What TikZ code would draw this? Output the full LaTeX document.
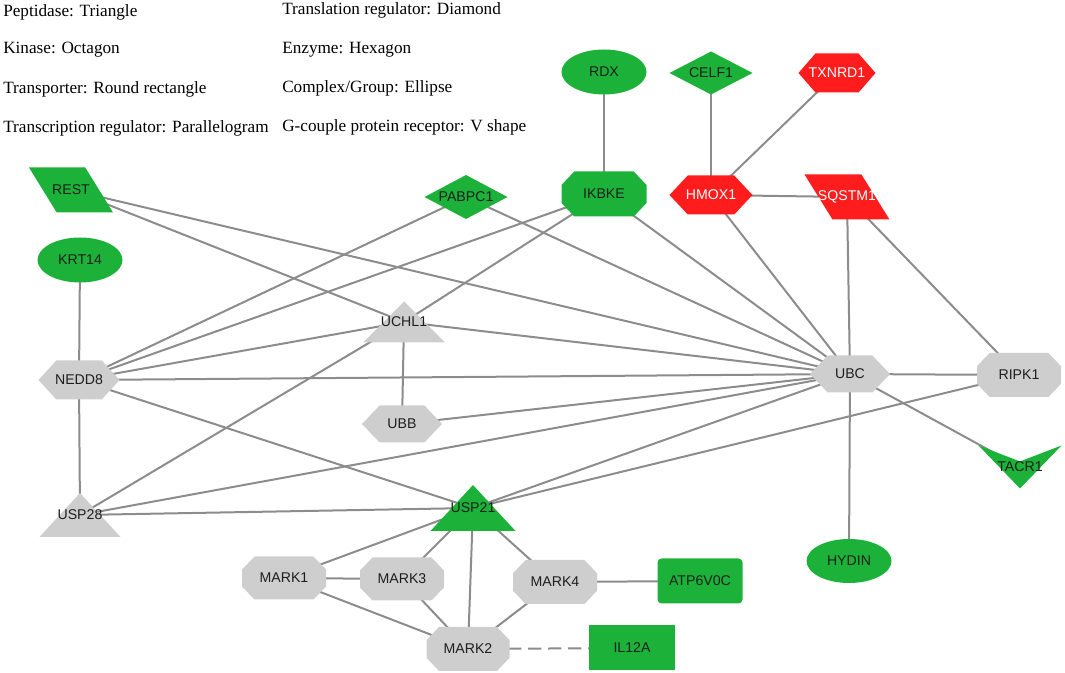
\documentclass[tikz,border=0pt]{standalone}
\usepackage{fontspec}
\setmainfont{Liberation Serif}
\setsansfont{Liberation Sans}
\pgfdeclarelayer{bg}
\pgfdeclarelayer{shp}
\pgfsetlayers{bg,shp,main}
\definecolor{ngreen}{RGB}{28,178,58}
\definecolor{nred}{RGB}{255,28,28}
\definecolor{ngray}{RGB}{206,206,206}
\definecolor{egray}{RGB}{140,140,140}
\definecolor{tdark}{RGB}{30,30,30}
\newcommand\shhexa[4]{\begin{pgfonlayer}{shp}\fill[#4,shift={(#1.center)}] (-#2/2,0) -- (-0.28*#2,-#3/2) -- (0.28*#2,-#3/2) -- (#2/2,0) -- (0.28*#2,#3/2) -- (-0.28*#2,#3/2) -- cycle;\end{pgfonlayer}}
\newcommand\shocta[4]{\begin{pgfonlayer}{shp}\fill[#4,shift={(#1.center)}] (-0.5*#2,-0.2*#3) -- (-0.35*#2,-0.5*#3) -- (0.35*#2,-0.5*#3) -- (0.5*#2,-0.2*#3) -- (0.5*#2,0.2*#3) -- (0.35*#2,0.5*#3) -- (-0.35*#2,0.5*#3) -- (-0.5*#2,0.2*#3) -- cycle;\end{pgfonlayer}}
\newcommand\shtri[4]{\begin{pgfonlayer}{shp}\fill[#4,shift={(#1.center)}] (0,-#3/2) -- (#2/2,#3/2) -- (-#2/2,#3/2) -- cycle;\end{pgfonlayer}}
\newcommand\shpara[4]{\begin{pgfonlayer}{shp}\fill[#4,shift={(#1.center)}] (-#2/2,-#3/2) -- (0.17*#2,-#3/2) -- (#2/2,#3/2) -- (-0.17*#2,#3/2) -- cycle;\end{pgfonlayer}}
\newcommand\shdiam[4]{\begin{pgfonlayer}{shp}\fill[#4,shift={(#1.center)}] (-#2/2,0) -- (0,-#3/2) -- (#2/2,0) -- (0,#3/2) -- cycle;\end{pgfonlayer}}
\newcommand\shvee[4]{\begin{pgfonlayer}{shp}\fill[#4,shift={(#1.center)}] (-#2/2,-#3/2) -- (0,-0.13*#3) -- (#2/2,-#3/2) -- (0,#3/2) -- cycle;\end{pgfonlayer}}
\newcommand\shell[4]{\begin{pgfonlayer}{shp}\fill[#4,shift={(#1.center)}] (0,0) ellipse [x radius=#2/2, y radius=#3/2];\end{pgfonlayer}}
\newcommand\shrrect[4]{\begin{pgfonlayer}{shp}\fill[#4,rounded corners=3pt,shift={(#1.center)}] (-#2/2,-#3/2) rectangle (#2/2,#3/2);\end{pgfonlayer}}
\newcommand\shrect[4]{\begin{pgfonlayer}{shp}\fill[#4,shift={(#1.center)}] (-#2/2,-#3/2) rectangle (#2/2,#3/2);\end{pgfonlayer}}
\begin{document}
\begin{tikzpicture}[x=0.75pt,y=-0.75pt,
  lbl/.style={font=\sffamily\fontsize{10.6}{12}\selectfont, inner sep=1pt, text=tdark},
  wlbl/.style={lbl, text=white},
  leg/.style={font=\rmfamily\fontsize{12.9}{14}\selectfont, anchor=west, inner sep=0pt, text=black},
  edge/.style={draw=egray, line width=1.5pt}]
\useasboundingbox (0,0) rectangle (1065,673);
% legend
\node[leg] (l1) at (3,12) {Peptidase: Triangle};
\node[leg] (l2) at (3,50) {Kinase: Octagon};
\node[leg] (l3) at (3,89) {Transporter: Round rectangle};
\node[leg] (l4) at (3,128) {Transcription regulator: Parallelogram};
\node[leg] (r1) at (282,10) {Translation regulator: Diamond};
\node[leg] (r2) at (282,50) {Enzyme: Hexagon};
\node[leg] (r3) at (282,88) {Complex/Group: Ellipse};
\node[leg] (r4) at (282,127) {G-couple protein receptor: V shape};
% nodes
\node[lbl] (RDX) at (604,72) {RDX};
\node[lbl] (CELF1) at (711,73) {CELF1};
\node[wlbl] (TXNRD1) at (837,73) {TXNRD1};
\node[lbl] (IKBKE) at (604,194) {IKBKE};
\node[wlbl] (HMOX1) at (711,195) {HMOX1};
\node[wlbl] (SQSTM1) at (847,197) {SQSTM1};
\node[lbl] (REST) at (71,190) {REST};
\node[lbl] (KRT14) at (80,260) {KRT14};
\node[lbl] (PABPC1) at (466,197) {PABPC1};
\node[lbl] (NEDD8) at (79,380) {NEDD8};
\node[lbl] (UCHL1) at (404,322) {UCHL1};
\node[lbl] (UBB) at (402,424) {UBB};
\node[lbl] (UBC) at (850,374) {UBC};
\node[lbl] (RIPK1) at (1019,375) {RIPK1};
\node[lbl] (TACR1) at (1020,467) {TACR1};
\node[lbl] (HYDIN) at (849,561) {HYDIN};
\node[lbl] (USP28) at (80,515) {USP28};
\node[lbl] (USP21) at (473,508) {USP21};
\node[lbl] (MARK1) at (284,578) {MARK1};
\node[lbl] (MARK3) at (402,579) {MARK3};
\node[lbl] (MARK4) at (555,582) {MARK4};
\node[lbl] (ATP6V0C) at (700,581) {ATP6V0C};
\node[lbl] (MARK2) at (468,649) {MARK2};
\node[lbl] (IL12A) at (632,648) {IL12A};
% shapes
\shell{RDX}{85}{45}{ngreen}
\shdiam{CELF1}{83}{43}{ngreen}
\shhexa{TXNRD1}{77}{39}{nred}
\shocta{IKBKE}{85}{45}{ngreen}
\shhexa{HMOX1}{83}{39}{nred}
\shpara{SQSTM1}{85}{45}{nred}
\shpara{REST}{84}{45}{ngreen}
\shell{KRT14}{85}{45}{ngreen}
\shdiam{PABPC1}{83}{44}{ngreen}
\shhexa{NEDD8}{81}{39}{ngray}
\shtri{UCHL1}{82}{41}{ngray}
\shhexa{UBB}{80}{37}{ngray}
\shhexa{UBC}{80}{37}{ngray}
\shocta{RIPK1}{84}{44}{ngray}
\shvee{TACR1}{83}{43}{ngreen}
\shell{HYDIN}{85}{44}{ngreen}
\shtri{USP28}{81}{44}{ngray}
\shtri{USP21}{85}{46}{ngreen}
\shocta{MARK1}{84}{43}{ngray}
\shocta{MARK3}{84}{43}{ngray}
\shocta{MARK4}{84}{44}{ngray}
\shrrect{ATP6V0C}{85}{45}{ngreen}
\shocta{MARK2}{83}{44}{ngray}
\shrect{IL12A}{86}{45}{ngreen}
% edges
\begin{pgfonlayer}{bg}
\draw[edge] (RDX.center) -- (IKBKE.center);
\draw[edge] (CELF1.center) -- (HMOX1.center);
\draw[edge] (TXNRD1.center) -- (HMOX1.center);
\draw[edge] (HMOX1.center) -- (SQSTM1.center);
\draw[edge] (HMOX1.center) -- (UBC.center);
\draw[edge] (SQSTM1.center) -- (UBC.center);
\draw[edge] (SQSTM1.center) -- (RIPK1.center);
\draw[edge] (IKBKE.center) -- (UBC.center);
\draw[edge] (IKBKE.center) -- (NEDD8.center);
\draw[edge] (IKBKE.center) -- (UCHL1.center);
\draw[edge] (PABPC1.center) -- (NEDD8.center);
\draw[edge] (PABPC1.center) -- (UBC.center);
\draw[edge] (REST.center) -- (UBC.center);
\draw[edge] (REST.center) -- (UCHL1.center);
\draw[edge] (KRT14.center) -- (NEDD8.center);
\draw[edge] (NEDD8.center) -- (UCHL1.center);
\draw[edge] (NEDD8.center) -- (UBC.center);
\draw[edge] (NEDD8.center) -- (USP21.center);
\draw[edge] (NEDD8.center) -- (USP28.center);
\draw[edge] (UCHL1.center) -- (UBB.center);
\draw[edge] (UCHL1.center) -- (UBC.center);
\draw[edge] (UCHL1.center) -- (USP28.center);
\draw[edge] (UBB.center) -- (UBC.center);
\draw[edge] (UBC.center) -- (RIPK1.center);
\draw[edge] (UBC.center) -- (TACR1.center);
\draw[edge] (UBC.center) -- (HYDIN.center);
\draw[edge] (UBC.center) -- (USP21.center);
\draw[edge] (UBC.center) -- (USP28.center);
\draw[edge] (RIPK1.center) -- (USP21.center);
\draw[edge] (USP28.center) -- (USP21.center);
\draw[edge] (USP21.center) -- (MARK1.center);
\draw[edge] (USP21.center) -- (MARK3.center);
\draw[edge] (USP21.center) -- (MARK2.center);
\draw[edge] (USP21.center) -- (MARK4.center);
\draw[edge] (MARK1.center) -- (MARK3.center);
\draw[edge] (MARK1.center) -- (MARK2.center);
\draw[edge] (MARK3.center) -- (MARK2.center);
\draw[edge] (MARK4.center) -- (MARK2.center);
\draw[edge] (MARK4.center) -- (ATP6V0C.center);
\draw[edge, dash pattern=on 10pt off 5pt] (MARK2.center) -- (IL12A.center);
\end{pgfonlayer}
\end{tikzpicture}
\end{document}
